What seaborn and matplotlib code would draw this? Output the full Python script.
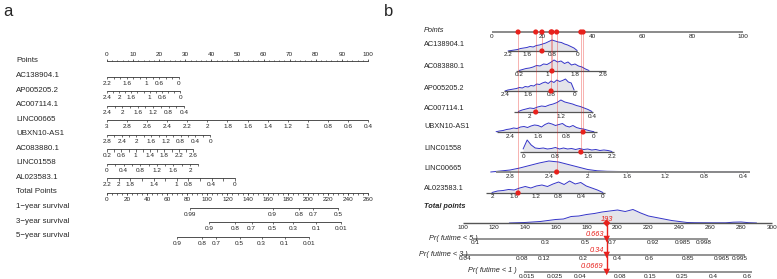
import numpy as np
import matplotlib
matplotlib.use('Agg')
import matplotlib.pyplot as plt
import seaborn as sns

sns.set_theme(style='white')
plt.rcParams['font.family'] = ['Liberation Sans', 'DejaVu Sans']

# ---------------- panel a : classic nomogram ----------------
a_vars = ['AC138904.1', 'AP005205.2', 'AC007114.1', 'LINC00665',
          'UBXN10-AS1', 'AC083880.1', 'LINC01558', 'AL023583.1']
a_start = [2.2, 2.4, 2.4, 3.0, 2.8, 0.2, 0.0, 2.2]      # value at 0 points
a_end = [0.0, 0.0, 0.4, 0.4, 0.0, 2.6, 2.2, 0.0]        # value at end of scale
a_end_pts = [27.6, 28.0, 29.5, 100.0, 39.5, 33.0, 35.0, 49.0]
a_labels = [[2.2, 1.6, 1, 0.6, 0],
            [2.4, 2, 1.6, 1, 0.6, 0],
            [2.4, 2, 1.6, 1.2, 0.8, 0.4],
            [3, 2.8, 2.6, 2.4, 2.2, 2, 1.8, 1.6, 1.4, 1.2, 1, 0.8, 0.6, 0.4],
            [2.8, 2.4, 2, 1.6, 1.2, 0.8, 0.4, 0],
            [0.2, 0.6, 1, 1.4, 1.8, 2.2, 2.6],
            [0, 0.4, 0.8, 1.2, 1.6, 2],
            [2.2, 2, 1.8, 1.4, 1, 0.8, 0.4, 0]]
points_ticks = [0, 10, 20, 30, 40, 50, 60, 70, 80, 90, 100]
total_ticks = [0, 20, 40, 60, 80, 100, 120, 140, 160, 180, 200, 220, 240, 260]

surv_names = ['1\u2212year survival', '3\u2212year survival', '5\u2212year survival']
surv_labels = [[0.99, 0.9, 0.8, 0.7, 0.5],
               [0.9, 0.8, 0.7, 0.5, 0.3, 0.1, 0.01],
               [0.9, 0.8, 0.7, 0.5, 0.3, 0.1, 0.01]]
surv_tp = [[83, 165, 191, 205, 230],
           [102, 128, 144, 165, 185, 208, 233],
           [70, 95, 109, 132, 154, 177, 201]]

# ---------------- panel b : regplot style nomogram ----------------
b_vars = ['AC138904.1', 'AC083880.1', 'AP005205.2', 'AC007114.1',
          'UBXN10-AS1', 'LINC01558', 'LINC00665', 'AL023583.1']
# two reference (value, points) pairs per scale
b_v1 = [2.2, 0.2, 2.4, 2.0, 2.4, 0.0, 2.8, 2.0]
b_p1 = [6.4, 10.8, 5.2, 15.1, 7.2, 12.4, 7.2, 0.0]
b_v2 = [0.0, 2.6, 0.0, 0.4, 0.0, 2.2, 0.4, 0.0]
b_p2 = [33.9, 44.2, 32.7, 39.8, 40.6, 47.8, 100.0, 44.2]
b_range = [(2.2, 0.0), (0.1, 2.7), (2.45, -0.1), (2.4, 0.37),
           (2.77, -0.09), (-0.07, 2.25), (2.95, 0.33), (2.1, -0.04)]
b_labels = [[2.2, 1.6, 0.8, 0], [0.2, 1, 1.8, 2.6], [2.4, 1.6, 0.8, 0],
            [2, 1.2, 0.4], [2.4, 1.6, 0.8, 0], [0, 0.8, 1.6, 2.2],
            [2.8, 2.4, 2, 1.6, 1.2, 0.8, 0.4], [2, 1.6, 1.2, 0.8, 0.4, 0]]
b_patient = [1.12, 1.14, 0.8, 1.85, 0.31, 1.43, 2.32, 1.53]

# density outlines (value grid, height in px)
dens_x = [
    [2.2, 2.1, 2.0, 1.9, 1.8, 1.7, 1.6, 1.5, 1.4, 1.3, 1.2, 1.1, 1.0, 0.9, 0.8, 0.7, 0.6, 0.5, 0.4, 0.3, 0.2, 0.1, 0.0],
    [0.2, 0.3, 0.4, 0.5, 0.6, 0.7, 0.8, 0.9, 1.0, 1.1, 1.2, 1.3, 1.4, 1.5, 1.6, 1.7, 1.8, 1.9, 2.0, 2.1, 2.2],
    [2.4, 2.3, 2.2, 2.1, 2.0, 1.9, 1.8, 1.7, 1.6, 1.5, 1.4, 1.3, 1.2, 1.1, 1.0, 0.9, 0.8, 0.7, 0.6, 0.5, 0.4, 0.3, 0.2, 0.1, 0.0],
    [2.3, 2.2, 2.1, 2.0, 1.9, 1.8, 1.7, 1.6, 1.5, 1.4, 1.3, 1.2, 1.1, 1.0, 0.9, 0.8, 0.7, 0.6, 0.5, 0.4],
    [2.8, 2.7, 2.6, 2.5, 2.4, 2.3, 2.2, 2.1, 2.0, 1.9, 1.8, 1.7, 1.6, 1.5, 1.4, 1.3, 1.2, 1.1, 1.0, 0.9, 0.8, 0.7, 0.6, 0.5, 0.4, 0.3, 0.2, 0.1, 0.0],
    [0.0, 0.1, 0.2, 0.3, 0.4, 0.5, 0.6, 0.7, 0.8, 0.9, 1.0, 1.1, 1.2, 1.3, 1.4, 1.5, 1.6, 1.7, 1.8, 1.9, 2.0, 2.1, 2.2],
    [3.0, 2.9, 2.8, 2.7, 2.6, 2.5, 2.4, 2.3, 2.2, 2.1, 2.0, 1.9, 1.8, 1.6, 1.4, 1.2, 1.0, 0.8, 0.6, 0.4],
    [2.0, 1.9, 1.8, 1.7, 1.6, 1.5, 1.4, 1.3, 1.2, 1.1, 1.0, 0.9, 0.8, 0.7, 0.6, 0.5, 0.4, 0.3, 0.2, 0.1, 0.0],
]
dens_h = [
    [0, 0.5, 1, 1.5, 2.5, 3, 3.5, 4.5, 4, 5.5, 6, 7, 8, 9.5, 11, 10, 9, 8.5, 7, 6, 4.5, 3, 0.5],
    [0.5, 1.5, 2.5, 3, 4, 5.5, 5, 7, 6.5, 8.5, 11, 9, 10, 7.5, 9, 6, 7, 5, 4, 2, 0.5],
    [0, 1, 1.5, 2, 2.5, 3.5, 3, 4.5, 4, 5.5, 5, 7, 6.5, 8, 9, 7.5, 10, 8.5, 11, 9.5, 10.5, 12, 9, 8, 1],
    [0.5, 2, 3, 4, 3.5, 5, 6, 5.5, 7, 8, 9.5, 12, 10, 9, 8, 6.5, 5.5, 4, 2.5, 0.5],
    [0.3, 1, 1.5, 2.5, 3, 4, 3.5, 5, 5.5, 4.5, 6, 7, 6.5, 5, 7.5, 9, 8, 6.5, 7.5, 8.5, 6, 5, 6.5, 4.5, 3.5, 3, 2, 1, 0.3],
    [3, 12, 7, 4, 3.5, 4, 3, 3.5, 4.5, 3, 4, 3, 3.5, 2.5, 3.5, 2.5, 3, 2, 2.5, 1.5, 2, 1.5, 0.5],
    [0, 1, 2, 4, 6.5, 9, 11, 10, 7.5, 5, 2.5, 1.2, 0.7, 0.4, 0.3, 0.3, 0.2, 0.3, 0.2, 0],
    [0.5, 2, 2.5, 3.5, 3, 5, 6.5, 5, 7, 8, 6.5, 9, 11, 8.5, 12, 9, 10.5, 7, 5, 3, 0.5],
]
tot_x = [130, 140, 150, 160, 165, 170, 175, 180, 185, 190, 195, 200, 205, 210, 215, 220,
         225, 230, 235, 240, 245, 250, 260, 270, 275, 280, 285, 290]
tot_h = [0, 0.5, 1.5, 3.5, 4, 6.5, 7, 8.5, 9.5, 11, 12, 13, 11.5, 13.5, 10, 7,
         5.5, 4, 2.5, 1.5, 0.5, 0.3, 0.2, 0.2, 0.8, 1, 0.3, 0]
b_total_ticks = [100, 120, 140, 160, 180, 200, 220, 240, 260, 280, 300]
total_score = 193

pr_names = ['Pr( futime < 5 )', 'Pr( futime < 3 )', 'Pr( futime < 1 )']
pr_labels = [[0.1, 0.3, 0.5, 0.7, 0.92, 0.985, 0.998],
             [0.04, 0.08, 0.12, 0.2, 0.4, 0.6, 0.85, 0.965, 0.995],
             [0.015, 0.025, 0.04, 0.08, 0.15, 0.25, 0.4, 0.6]]
pr_tp = [[107.8, 153, 179, 196.5, 223, 242, 255.5],
         [101.3, 138, 152.4, 177.7, 199.7, 220.4, 245.6, 267.6, 279.3],
         [141.4, 159.5, 175.7, 201.6, 221, 241.7, 261.8, 283.8]]
pr_values = ['0.663', '0.34', '0.0669']


def fmt(v):
    return f'{v:g}'


fig = plt.figure(figsize=(7.77, 2.79), dpi=100)
W, H = 777, 279

# panel a axes: x in points (0 -> 107 px, 100 -> 368 px), y in px
A0, AS = 107, 2.61
ax_a = fig.add_axes([0, 0, 1, 1])
ax_a.set_xlim(-A0 / AS, (W - A0) / AS)
ax_a.set_ylim(H, 0)
ax_a.axis('off')

fs_lab, fs_tk = 5.7, 4.6
lc = '#333333'
xlab_a = (16 - A0) / AS
rows = [61 + 14.55 * i for i in range(13)]

ax_a.text((3 - A0) / AS, 11, 'a', fontsize=12, va='center', ha='left')

# Points
y = rows[0]
ax_a.text(xlab_a, y, 'Points', fontsize=fs_lab, va='center')
ax_a.plot([0, 100], [y, y], color=lc, lw=0.6)
ax_a.vlines(np.arange(0, 101, 2), y, y - 1.4, color=lc, lw=0.5)
ax_a.vlines(points_ticks, y, y - 2.5, color=lc, lw=0.5)
for t in points_ticks:
    ax_a.text(t, y - 6.5, fmt(t), fontsize=fs_tk, ha='center', va='center', color='#222222')

for i, name in enumerate(a_vars):
    y = rows[i + 1]
    ax_a.text(xlab_a, y, name, fontsize=fs_lab, va='center')
    s, e, ep = a_start[i], a_end[i], a_end_pts[i]
    to_pts = lambda v: (v - s) / (e - s) * ep
    lo, hi = min(s, e), max(s, e)
    vals = np.round(np.arange(lo, hi + 1e-6, 0.2), 2)
    yl = y + 1
    ax_a.plot([to_pts(s), to_pts(e)], [yl, yl], color=lc, lw=0.6)
    ax_a.vlines([to_pts(v) for v in vals], yl, yl + 2.2, color=lc, lw=0.5)
    for v in a_labels[i]:
        ax_a.text(to_pts(v), yl + 6.5, fmt(v), fontsize=fs_tk, ha='center', va='center', color='#222222')

# Total Points (0-260 spread over 0-100 points)
y = rows[9]
tp_to_pts = lambda tp: tp / 260 * 100
ax_a.text(xlab_a, y, 'Total Points', fontsize=fs_lab, va='center')
yl = y + 1
ax_a.plot([0, 100], [yl, yl], color=lc, lw=0.6)
ax_a.vlines([tp_to_pts(t) for t in range(0, 261, 5)], yl, yl + 1.6, color=lc, lw=0.5)
ax_a.vlines([tp_to_pts(t) for t in total_ticks], yl, yl + 2.4, color=lc, lw=0.5)
for t in total_ticks:
    ax_a.text(tp_to_pts(t), yl + 6.5, fmt(t), fontsize=fs_tk, ha='center', va='center', color='#222222')

for i, name in enumerate(surv_names):
    y = rows[10 + i]
    ax_a.text(xlab_a, y, name, fontsize=fs_lab, va='center')
    xs = [tp_to_pts(t) for t in surv_tp[i]]
    yl = y + 1
    ax_a.plot([xs[0], xs[-1]], [yl, yl], color=lc, lw=0.6)
    ax_a.vlines(xs, yl, yl + 2.4, color=lc, lw=0.5)
    for x, v in zip(xs, surv_labels[i]):
        ax_a.text(x, yl + 6.5, fmt(v), fontsize=fs_tk, ha='center', va='center', color='#222222')

# panel b axes: x in points (0 -> 492 px, 100 -> 743 px), y in px
B0, BS = 492, 2.51
ax_b = fig.add_axes([0, 0, 1, 1])
ax_b.set_xlim(-B0 / BS, (W - B0) / BS)
ax_b.set_ylim(H, 0)
ax_b.axis('off')
ax_b.patch.set_alpha(0)

px_b = lambda px: (px - B0) / BS
tpb = lambda tp: px_b(463 + (tp - 100) * 1.545)
gray = '#8a8a8a'
red = '#e8211c'
blue = '#3434c8'
fs_b, fs_bt = 5.3, 4.6
xlab_b = px_b(424)

ax_b.text(px_b(384), 11, 'b', fontsize=12, va='center', ha='left')

# Points
yP = 32
ax_b.text(xlab_b, 30, 'Points', fontsize=fs_b, va='center', style='italic')
ax_b.plot([0, 100], [yP, yP], color=gray, lw=1.4, solid_capstyle='butt')
for t in [0, 20, 40, 60, 80, 100]:
    ax_b.text(t, yP + 4, fmt(t), fontsize=fs_bt, ha='center', va='center', color='#222222')

lab_y = [45, 66, 88, 108, 127, 149, 168, 188]
base_y = [51, 71, 91, 112, 132, 152, 172, 193]
pat_pts = []
for i, name in enumerate(b_vars):
    yb = base_y[i]
    ax_b.text(xlab_b, lab_y[i], name, fontsize=fs_b, va='center')
    v1, p1, v2, p2 = b_v1[i], b_p1[i], b_v2[i], b_p2[i]
    to_pts = lambda v: p1 + (v - v1) / (v2 - v1) * (p2 - p1)
    dx = np.array([to_pts(v) for v in dens_x[i]])
    dy = yb - np.array(dens_h[i])
    ax_b.fill_between(dx, dy, yb, color='#e4e4ea', lw=0)
    sns.lineplot(x=dx, y=dy, ax=ax_b, color=blue, lw=0.7, sort=False)
    r0, r1 = b_range[i]
    lw = 1.4 if name == 'LINC00665' else 0.9
    col = gray if name == 'LINC00665' else '#555555'
    ax_b.plot([to_pts(r0), to_pts(r1)], [yb, yb], color=col, lw=lw, solid_capstyle='butt')
    for v in b_labels[i]:
        ax_b.vlines(to_pts(v), yb, yb + 1.2, color='#555555', lw=0.5)
        ax_b.text(to_pts(v), yb + 4, fmt(v), fontsize=fs_bt, ha='center', va='center', color='#222222')
    pp = to_pts(b_patient[i])
    pat_pts.append(pp)
    ax_b.plot([pp, pp], [yP, yb], color=red, lw=0.6, ls=(0, (1.2, 1.2)), alpha=0.8)

sns.scatterplot(x=pat_pts, y=[yP] * len(pat_pts), ax=ax_b, color=red, s=14, edgecolor='none', zorder=5)
sns.scatterplot(x=pat_pts, y=base_y, ax=ax_b, color=red, s=14, edgecolor='none', zorder=5)

# Total points
yT = 223
ax_b.text(xlab_b, 207, 'Total points', fontsize=fs_b, va='center', style='italic', weight='bold')
tx = np.array([tpb(t) for t in tot_x])
ty = yT - np.array(tot_h)
ax_b.fill_between(tx, ty, yT, color='#e4e4ea', lw=0)
sns.lineplot(x=tx, y=ty, ax=ax_b, color=blue, lw=0.7, sort=False)
ax_b.plot([tpb(100), tpb(300)], [yT, yT], color='#555555', lw=1.0, solid_capstyle='butt')
for t in b_total_ticks:
    ax_b.text(tpb(t), yT + 4.5, fmt(t), fontsize=fs_bt, ha='center', va='center', color='#222222')

# probability scales
pr_y = [239, 255, 272]
pr_lab_end = [478, 468, 517]
xs_tot = tpb(total_score)
ax_b.plot([xs_tot, xs_tot], [yT, pr_y[-1]], color=red, lw=1.0)
for i, name in enumerate(pr_names):
    y = pr_y[i]
    xs = [tpb(t) for t in pr_tp[i]]
    ax_b.plot([xs[0] - 1, xs[-1] + 2], [y, y], color=gray, lw=1.3, solid_capstyle='butt')
    ax_b.text(px_b(pr_lab_end[i]), y - 1, name, fontsize=fs_b, ha='right', va='center', style='italic')
    for x, v in zip(xs, pr_labels[i]):
        ax_b.text(x, y + 4, fmt(v), fontsize=fs_bt, ha='center', va='center', color='#222222')
    ax_b.text(xs_tot - 1.2, y - 5, pr_values[i], fontsize=fs_b, ha='right', va='center',
              style='italic', color=red)
sns.scatterplot(x=[xs_tot] * 3, y=pr_y, ax=ax_b, color=red, marker='v', s=22, edgecolor='none', zorder=6)
sns.scatterplot(x=[xs_tot], y=[yT], ax=ax_b, color=red, marker='D', s=14, edgecolor='none', zorder=6)
ax_b.text(xs_tot, yT - 3.5, str(total_score), fontsize=fs_b, ha='center', va='center',
          style='italic', color=red)

fig.savefig('out.png', dpi=100)
